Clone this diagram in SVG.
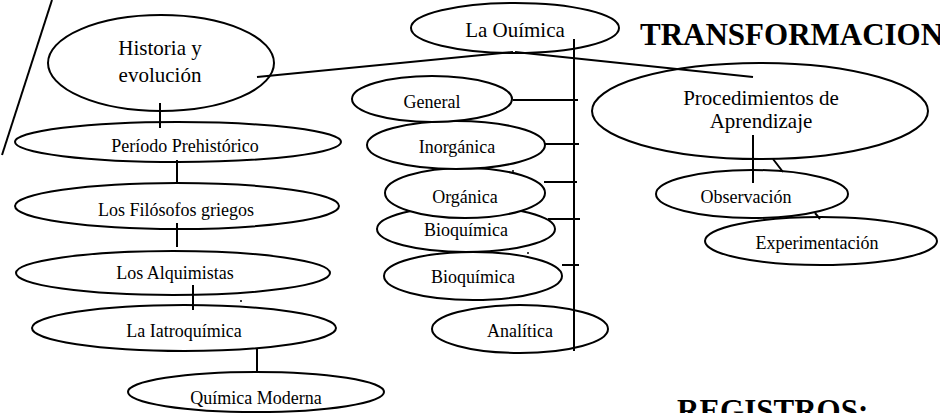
<svg xmlns="http://www.w3.org/2000/svg" width="940" height="413" viewBox="0 0 940 413">
  <style>
    .node ellipse { fill: #ffffff; stroke: #000000; stroke-width: 2; }
    .lbl { font-family: "Liberation Serif", "Times New Roman", serif; font-size: 18px; fill: #000000; text-anchor: middle; }
    .big { font-size: 21px; }
    .title { font-family: "Liberation Serif", "Times New Roman", serif; font-size: 31px; font-weight: bold; fill: #000000; }
    .conn { stroke: #000000; stroke-width: 2; fill: none; }
    .dot { fill: #000000; }
  </style>

  <rect width="940" height="413" fill="#ffffff"/>

  <!-- titles -->
  <text class="title" x="640" y="45">TRANSFORMACION</text>
  <text class="title" x="677" y="421">REGISTROS:</text>

  <!-- left margin rule -->
  <line class="conn" x1="52" y1="0" x2="2" y2="155"/>

  <!-- history column -->
  <g id="historia" class="node">
    <ellipse cx="161" cy="63" rx="113" ry="48"/>
    <text class="lbl big" x="160" y="55">Historia y</text>
    <text class="lbl big" x="160" y="82">evolución</text>
  </g>
  <g id="prehistorico" class="node">
    <ellipse cx="178" cy="142" rx="163" ry="20"/>
    <text class="lbl" x="185" y="152">Período Prehistórico</text>
  </g>
  <g id="filosofos" class="node">
    <ellipse cx="177" cy="206" rx="162" ry="23"/>
    <text class="lbl" x="176" y="216">Los Filósofos griegos</text>
  </g>
  <g id="alquimistas" class="node">
    <ellipse cx="173" cy="273" rx="157" ry="22"/>
    <text class="lbl" x="175" y="279">Los Alquimistas</text>
  </g>
  <g id="iatroquimica" class="node">
    <ellipse cx="184" cy="328" rx="152" ry="23"/>
    <text class="lbl" x="184" y="337">La Iatroquímica</text>
  </g>
  <g id="moderna" class="node">
    <ellipse cx="256" cy="392" rx="128" ry="20"/>
    <text class="lbl" x="256" y="404">Química Moderna</text>
  </g>

  <!-- branches column -->
  <g id="quimica" class="node">
    <ellipse cx="515" cy="28" rx="104" ry="25"/>
    <text class="lbl big" x="515" y="37">La Ouímica</text>
  </g>
  <g id="bioquimica2" class="node">
    <ellipse cx="473" cy="276" rx="89" ry="24"/>
    <text class="lbl" x="473" y="283">Bioquímica</text>
  </g>
  <g id="bioquimica1" class="node">
    <ellipse cx="466" cy="229" rx="89" ry="23"/>
    <text class="lbl" x="466" y="236">Bioquímica</text>
  </g>
  <g id="organica" class="node">
    <ellipse cx="465" cy="193" rx="80" ry="25"/>
    <text class="lbl" x="465" y="203">Orgánica</text>
  </g>
  <g id="inorganica" class="node">
    <ellipse cx="456" cy="145" rx="89" ry="24"/>
    <text class="lbl" x="457" y="153">Inorgánica</text>
  </g>
  <g id="general" class="node">
    <ellipse cx="432" cy="99" rx="80" ry="23"/>
    <text class="lbl" x="432" y="108">General</text>
  </g>
  <g id="analitica" class="node">
    <ellipse cx="520" cy="329" rx="88" ry="24"/>
    <text class="lbl" x="520" y="337">Analítica</text>
  </g>

  <!-- learning procedures -->
  <g id="procedimientos" class="node">
    <ellipse cx="760" cy="111" rx="168" ry="48"/>
    <text class="lbl big" x="761" y="105">Procedimientos de</text>
    <text class="lbl big" x="761" y="128">Aprendizaje</text>
  </g>
  <g id="experimentacion" class="node">
    <ellipse cx="821" cy="241" rx="116" ry="24"/>
    <text class="lbl" x="817" y="249">Experimentación</text>
  </g>
  <g id="observacion" class="node">
    <ellipse cx="752" cy="194" rx="96" ry="24"/>
    <text class="lbl" x="746" y="203">Observación</text>
  </g>

  <!-- connectors -->
  <g id="connectors">
    <line class="conn" x1="257" y1="77" x2="513" y2="52"/>
    <line class="conn" x1="515" y1="52" x2="753" y2="77"/>
    <!-- history chain -->
    <line class="conn" x1="160" y1="103" x2="160" y2="128"/>
    <line class="conn" x1="177" y1="160" x2="177" y2="184"/>
    <line class="conn" x1="177" y1="223" x2="177" y2="247"/>
    <line class="conn" x1="193" y1="285" x2="193" y2="310"/>
    <line class="conn" x1="257" y1="348" x2="257" y2="372"/>
    <!-- branch spine -->
    <line class="conn" x1="574" y1="39" x2="574" y2="351"/>
    <line class="conn" x1="513" y1="100" x2="578" y2="100"/>
    <line class="conn" x1="545" y1="144" x2="579" y2="144"/>
    <line class="conn" x1="544" y1="182" x2="577" y2="182"/>
    <line class="conn" x1="548" y1="219" x2="580" y2="219"/>
    <line class="conn" x1="562" y1="265" x2="579" y2="265"/>
    <!-- procedures -->
    <line class="conn" x1="753" y1="135" x2="753" y2="183"/>
    <path class="conn" d="M773 159 L783 172 M815 213 L820 219"/>
  </g>

  <!-- stray marks -->
  <circle class="dot" cx="497" cy="112" r="1"/>
  <circle class="dot" cx="513" cy="171" r="1"/>
  <circle class="dot" cx="528" cy="253" r="1"/>
  <circle class="dot" cx="241" cy="301" r="1"/>
</svg>
